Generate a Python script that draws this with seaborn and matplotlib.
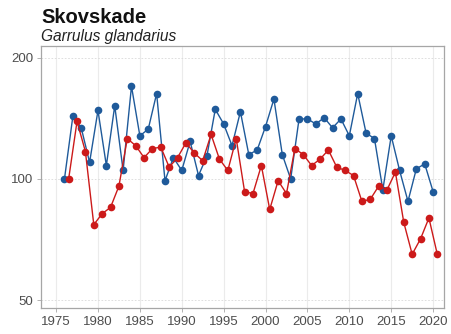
import numpy as np
import pandas as pd
import matplotlib
matplotlib.use("Agg")
import matplotlib.pyplot as plt
import seaborn as sns
from matplotlib.ticker import FixedLocator, NullLocator

years = list(range(1976, 2021))
blue_values = [100, 143, 134, 110, 148, 108, 152, 105, 170, 128, 133, 163, 99, 113, 105,
               124, 102, 114, 149, 137, 121, 147, 115, 118, 135, 158, 115, 100, 141, 141,
               137, 142, 134, 141, 128, 163, 130, 126, 94, 128, 105, 88, 106, 109, 93]
red_values = [100, 139, 117, 77, 82, 85, 96, 126, 121, 113, 119, 120, 107, 113, 123,
              116, 111, 129, 112, 105, 126, 93, 92, 108, 84, 99, 92, 119, 115, 108,
              112, 118, 107, 105, 102, 88, 89, 96, 94, 104, 78, 65, 71, 80, 65]
series_names = ["blue", "red"]
y_ticks = [50, 100, 200]
x_ticks = [1975, 1980, 1985, 1990, 1995, 2000, 2005, 2010, 2015, 2020]
title = "Skovskade"
subtitle = "Garrulus glandarius"

colors = {"blue": "#1f5a9a", "red": "#cc1a1a"}
offsets = {"blue": 0.0, "red": 0.5}

df = pd.concat([
    pd.DataFrame({"year": years, "value": blue_values, "series": "blue"}),
    pd.DataFrame({"year": years, "value": red_values, "series": "red"}),
])
df["x"] = df["year"] + df["series"].map(offsets)

sns.set_theme(style="white")
plt.rcParams["font.family"] = ["Liberation Sans", "DejaVu Sans"]

fig = plt.figure(figsize=(4.51, 3.34), dpi=100)
ax = fig.add_axes([41 / 451, 1 - 308 / 334, (444 - 41) / 451, (308 - 46) / 334])

for name in series_names:
    sub = df[df["series"] == name]
    sns.lineplot(data=sub, x="x", y="value", ax=ax, color=colors[name],
                 linewidth=1.0, marker="o", markersize=5.5, markeredgewidth=0,
                 sort=False, zorder=3 if name == "red" else 2)

ax.set_yscale("log")
ax.set_ylim(47.8, 214)
ax.set_xlim(1973.2, 2021.3)
ax.yaxis.set_major_locator(FixedLocator(y_ticks))
ax.yaxis.set_minor_locator(NullLocator())
ax.set_yticklabels([str(t) for t in y_ticks])
ax.xaxis.set_major_locator(FixedLocator(x_ticks))
ax.set_xticklabels([str(t) for t in x_ticks])

ax.grid(axis="x", color="#ebebeb", linewidth=0.8, linestyle="-", zorder=0)
ax.grid(axis="y", color="#d9d9d9", linewidth=0.6, linestyle=(0, (2, 2)), zorder=0)
ax.set_axisbelow(True)

for s in ax.spines.values():
    s.set_color("#a6a6a6")
    s.set_linewidth(0.9)

ax.tick_params(axis="both", which="major", labelsize=9.5, labelcolor="#4d4d4d",
               color="#a6a6a6", length=3, width=0.6, pad=2.5, bottom=True, left=True)
ax.set_xlabel("")
ax.set_ylabel("")
if ax.get_legend() is not None:
    ax.get_legend().remove()

fig.text(41 / 451, 1 - 23 / 334, title, fontsize=14.5, fontweight="bold",
         color="#111111", ha="left", va="baseline")
fig.text(41 / 451, 1 - 40.5 / 334, subtitle, fontsize=11.2, fontstyle="italic",
         color="#222222", ha="left", va="baseline")

fig.savefig("out.png", dpi=100)
